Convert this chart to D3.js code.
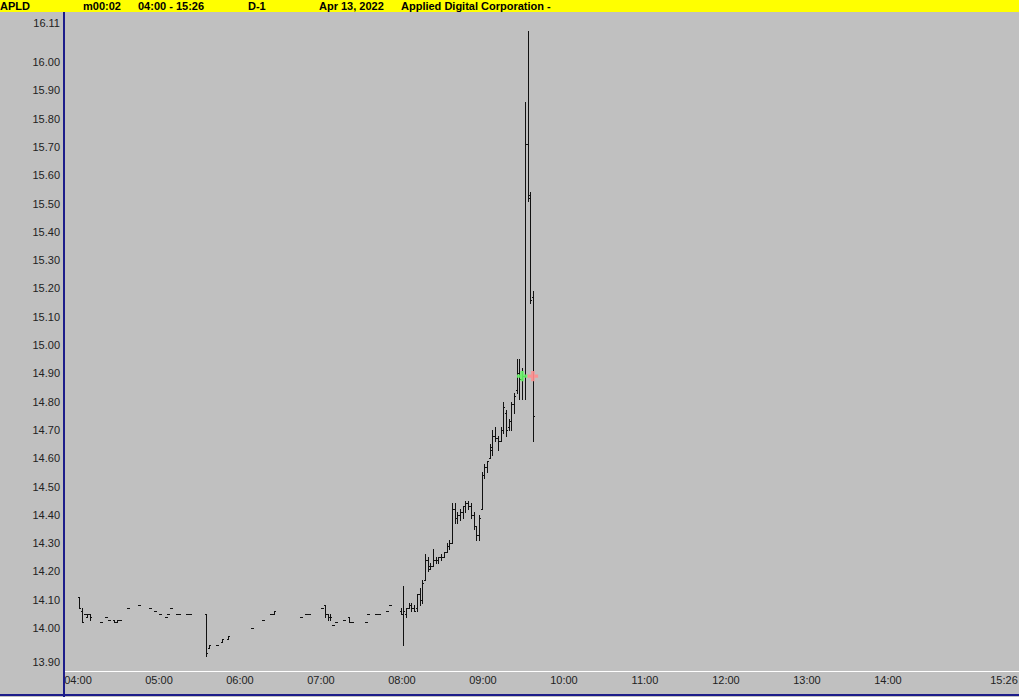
<!DOCTYPE html>
<html>
<head>
<meta charset="utf-8">
<script src="https://cdn.jsdelivr.net/npm/d3@7"></script>
<style>
  body { margin: 0; background: #c0c0c0; }
  svg { display: block; }
  text { font-family: Arial, "Liberation Sans", sans-serif; }
</style>
</head>
<body>
<div id="chart"></div>
<script>
// header fields
const headerItems = ["APLD", "m00:02", "04:00 - 15:26", "D-1", "Apr 13, 2022", "Applied Digital Corporation -"];
const headerX = [0, 83, 138, 248, 319, 401];

// axis labels
const yTicks = [13.90, 14.00, 14.10, 14.20, 14.30, 14.40, 14.50, 14.60, 14.70, 14.80, 14.90,
                15.00, 15.10, 15.20, 15.30, 15.40, 15.50, 15.60, 15.70, 15.80, 15.90, 16.00, 16.11];
const xTicks = ["04:00", "05:00", "06:00", "07:00", "08:00", "09:00", "10:00", "11:00", "12:00", "13:00", "14:00", "15:26"];

// 2-minute OHLC bars
const barTimes = ["04:00","04:02","04:04","04:06","04:08","04:16","04:20","04:22","04:26","04:28","04:30",
  "04:36","04:44","04:52","04:56","05:00","05:04","05:06","05:08","05:12","05:14","05:20","05:22",
  "05:34","05:36","05:42","05:46","05:50","06:08","06:16","06:22","06:24","06:44","06:48","06:50",
  "07:00","07:02","07:04","07:06","07:08","07:10","07:16","07:20","07:22","07:32","07:34","07:40","07:42",
  "07:48","07:50","07:58",
  "08:00","08:02","08:04","08:06","08:08","08:10","08:12","08:14","08:16","08:18","08:20","08:22",
  "08:24","08:26","08:28","08:30","08:32","08:34","08:36","08:38","08:40","08:42","08:44","08:46",
  "08:48","08:50","08:52","08:54","08:56","08:58","09:00","09:02","09:04","09:06","09:08","09:10",
  "09:12","09:14","09:16","09:18","09:20","09:22","09:24","09:26","09:28","09:30","09:32","09:34","09:36"];
const barOpen = [14.11,14.06,14.05,14.04,14.05,14.02,14.04,14.03,14.03,14.02,14.03,
  14.07,14.08,14.07,14.06,14.05,14.04,14.05,14.07,14.05,14.05,14.05,14.05,
  14.05,13.93,13.94,13.95,13.96,14.00,14.03,14.05,14.05,14.04,14.05,14.05,
  14.07,14.08,14.05,14.04,14.01,14.02,14.03,14.04,14.02,14.02,14.05,14.05,14.05,
  14.06,14.08,14.06,
  14.05,14.05,14.07,14.08,14.07,14.07,14.12,14.10,14.17,14.24,14.22,14.22,
  14.24,14.24,14.25,14.25,14.27,14.29,14.30,14.42,14.39,14.40,14.41,14.43,
  14.44,14.43,14.40,14.36,14.33,14.42,14.54,14.57,14.60,14.63,14.68,14.67,
  14.66,14.70,14.76,14.71,14.73,14.79,14.84,14.90,14.88,14.89,15.71,15.53,15.17];
const barHigh = [14.11,14.07,14.05,14.05,14.05,14.02,14.04,14.03,14.03,14.03,14.03,
  14.07,14.08,14.07,14.06,14.05,14.04,14.05,14.07,14.05,14.05,14.05,14.05,
  14.05,13.94,13.94,13.96,13.97,14.00,14.03,14.05,14.06,14.04,14.05,14.05,
  14.07,14.08,14.05,14.05,14.01,14.02,14.03,14.04,14.02,14.02,14.05,14.05,14.05,
  14.06,14.08,14.07,
  14.15,14.07,14.09,14.09,14.08,14.12,14.14,14.17,14.26,14.25,14.23,14.28,
  14.25,14.25,14.26,14.27,14.30,14.31,14.44,14.44,14.41,14.42,14.43,14.45,
  14.45,14.44,14.41,14.36,14.40,14.55,14.58,14.59,14.65,14.70,14.71,14.68,
  14.71,14.80,14.77,14.74,14.80,14.83,14.95,14.95,14.92,15.86,16.11,15.54,15.19];
const barLow = [14.07,14.02,14.05,14.04,14.03,14.02,14.04,14.03,14.02,14.02,14.03,
  14.07,14.08,14.07,14.06,14.05,14.04,14.05,14.07,14.05,14.05,14.05,14.05,
  13.90,13.93,13.94,13.95,13.96,14.00,14.03,14.05,14.05,14.04,14.05,14.05,
  14.07,14.04,14.03,14.03,14.01,14.02,14.03,14.02,14.02,14.02,14.05,14.05,14.05,
  14.06,14.08,14.05,
  13.94,14.04,14.07,14.06,14.06,14.06,14.08,14.09,14.17,14.20,14.21,14.22,
  14.23,14.23,14.24,14.25,14.27,14.28,14.30,14.37,14.37,14.38,14.39,14.41,
  14.42,14.39,14.35,14.31,14.31,14.42,14.53,14.55,14.60,14.61,14.66,14.63,
  14.66,14.69,14.68,14.70,14.70,14.76,14.83,14.81,14.81,14.81,15.51,15.15,14.66];
const barClose = [14.07,14.02,14.05,14.05,14.04,14.02,14.04,14.03,14.02,14.03,14.03,
  14.07,14.08,14.07,14.06,14.05,14.04,14.05,14.07,14.05,14.05,14.05,14.05,
  13.91,13.94,13.94,13.96,13.97,14.00,14.03,14.05,14.06,14.04,14.05,14.05,
  14.07,14.05,14.04,14.04,14.01,14.02,14.03,14.02,14.02,14.02,14.05,14.05,14.05,
  14.06,14.08,14.05,
  14.06,14.07,14.08,14.07,14.06,14.12,14.10,14.16,14.24,14.21,14.22,14.24,
  14.24,14.25,14.25,14.27,14.29,14.30,14.42,14.39,14.40,14.41,14.43,14.44,
  14.43,14.40,14.36,14.33,14.39,14.54,14.57,14.59,14.64,14.68,14.67,14.66,
  14.70,14.78,14.70,14.73,14.79,14.82,14.90,14.88,14.89,15.71,15.52,15.16,14.75];

// position markers
const markerTimes = ["09:28", "09:36"];
const markerPrices = [14.89, 14.89];
const markerColors = ["#66f566", "#ff8f8f"];

const width = 1019, height = 697;
const plotLeft = 64, plotTop = 12, plotBottom = 671;

const parseTime = d3.timeParse("%H:%M");
const bars = barTimes.map((t, i) => ({
  t: d3.timeMinute.offset(parseTime(t), 1),
  o: barOpen[i], h: barHigh[i], l: barLow[i], c: barClose[i]
}));

const x = d3.scaleTime()
  .domain([parseTime("04:00"), parseTime("15:26")])
  .range([78, 1004]);

const y = d3.scaleLinear()
  .domain([14.00, 15.00])
  .range([628, 345]);

const svg = d3.select("#chart").append("svg")
  .attr("width", width)
  .attr("height", height);

svg.append("rect")
  .attr("width", width).attr("height", height)
  .attr("fill", "#c0c0c0");

// header bar
svg.append("rect")
  .attr("width", width).attr("height", plotTop)
  .attr("fill", "#ffff00");

svg.selectAll(".hdr")
  .data(headerItems)
  .enter().append("text")
  .attr("class", "hdr")
  .attr("x", (d, i) => headerX[i])
  .attr("y", 10)
  .style("font-size", "11px")
  .style("font-weight", "bold")
  .attr("fill", "#000")
  .text(d => d);

// price labels
const yMin = d3.min(yTicks), yMax = d3.max(yTicks);
svg.selectAll(".ylab")
  .data(yTicks)
  .enter().append("text")
  .attr("class", "ylab")
  .attr("x", 60)
  .attr("y", d => y(d) + 4 + (d === yMax ? -8 : d === yMin ? 6 : 0))
  .attr("text-anchor", "end")
  .style("font-size", "11px")
  .attr("fill", "#222")
  .text(d => d.toFixed(2));

// time labels
svg.selectAll(".xlab")
  .data(xTicks)
  .enter().append("text")
  .attr("class", "xlab")
  .attr("x", d => x(parseTime(d)))
  .attr("y", 684)
  .attr("text-anchor", "middle")
  .style("font-size", "11px")
  .attr("fill", "#222")
  .text(d => d);

// white baseline of the plot
svg.append("line")
  .attr("x1", plotLeft).attr("x2", width)
  .attr("y1", plotBottom + 0.5).attr("y2", plotBottom + 0.5)
  .attr("stroke", "#fff");

// OHLC bars
const g = svg.append("g").attr("shape-rendering", "crispEdges").attr("fill", "#111");
bars.forEach(d => {
  const px = Math.round(x(d.t));
  const yh = Math.round(y(d.h)), yl = Math.round(y(d.l));
  g.append("rect").attr("x", px).attr("y", yh).attr("width", 1).attr("height", Math.max(1, yl - yh + 1));
  g.append("rect").attr("x", px - 1).attr("y", Math.round(y(d.o))).attr("width", 1).attr("height", 1);
  g.append("rect").attr("x", px + 1).attr("y", Math.round(y(d.c))).attr("width", 1).attr("height", 1);
});

// markers
svg.selectAll(".marker")
  .data(markerTimes)
  .enter().append("path")
  .attr("class", "marker")
  .attr("d", d3.symbol(d3.symbolCross, 60))
  .attr("transform", (d, i) => "translate(" + x(d3.timeMinute.offset(parseTime(d), 1)) + "," + y(markerPrices[i]) + ")")
  .attr("fill", (d, i) => markerColors[i])
  .attr("opacity", 0.9);

// blue frame lines
svg.append("line")
  .attr("x1", plotLeft).attr("x2", plotLeft)
  .attr("y1", plotTop).attr("y2", height)
  .attr("stroke", "#1c1c8a").attr("stroke-width", 2);
svg.append("line")
  .attr("x1", 0).attr("x2", width)
  .attr("y1", 695).attr("y2", 695)
  .attr("stroke", "#1c1c8a").attr("stroke-width", 2);
</script>
</body>
</html>
